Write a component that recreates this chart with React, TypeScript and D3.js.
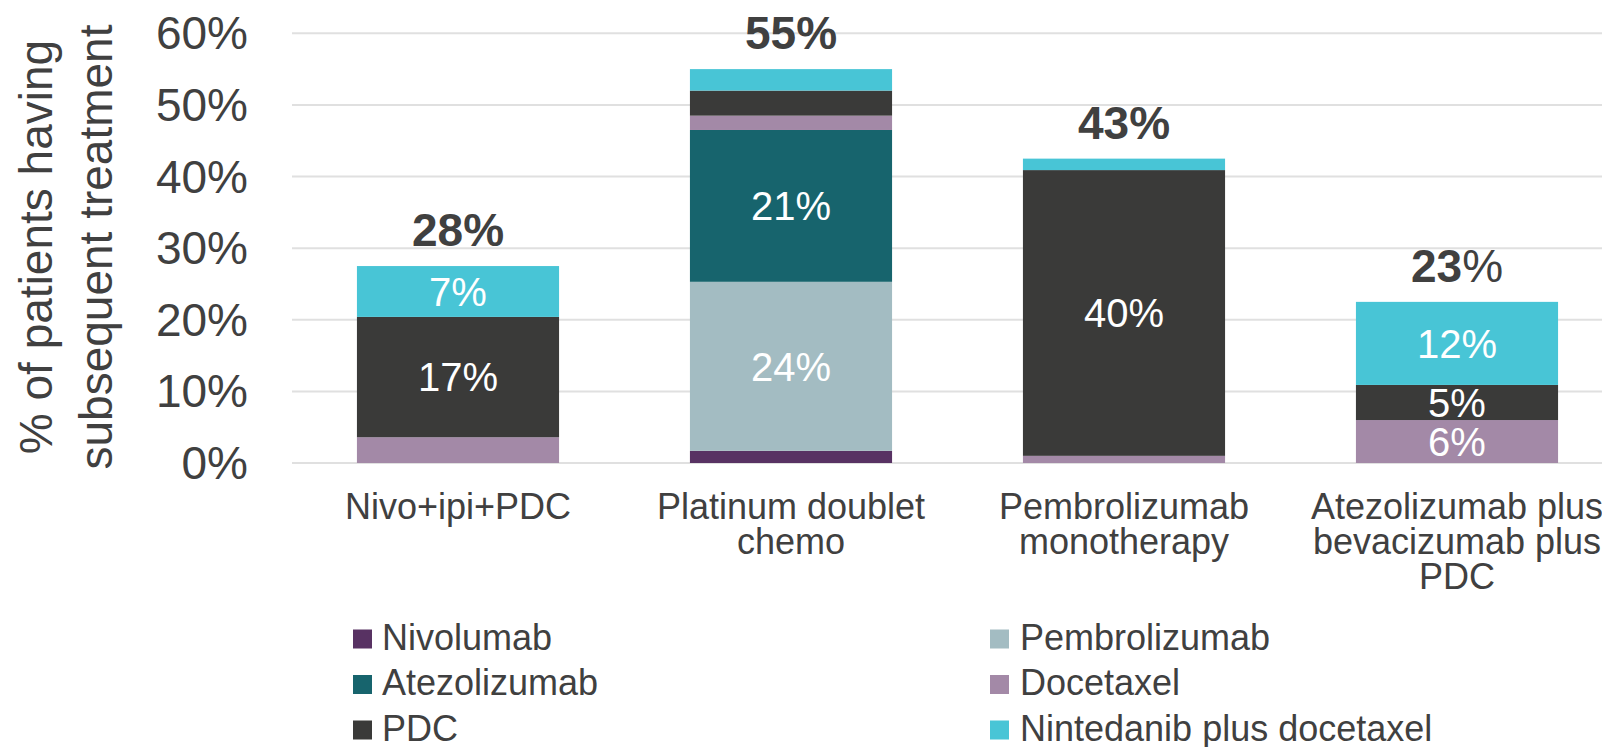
import { useEffect, useRef } from "react";
import * as d3 from "d3";

const categories = [
  "Nivo+ipi+PDC",
  "Platinum doublet chemo",
  "Pembrolizumab monotherapy",
  "Atezolizumab plus bevacizumab plus PDC",
];
const categoryLines = [
  ["Nivo+ipi+PDC"],
  ["Platinum doublet", "chemo"],
  ["Pembrolizumab", "monotherapy"],
  ["Atezolizumab plus", "bevacizumab plus", "PDC"],
];

// stacked bottom -> top
const seriesNames = [
  "Nivolumab",
  "Pembrolizumab",
  "Atezolizumab",
  "Docetaxel",
  "PDC",
  "Nintedanib plus docetaxel",
];
const nivolumab = [0, 1.7, 0, 0];
const pembrolizumab = [0, 23.6, 0, 0];
const atezolizumab = [0, 21.2, 0, 0];
const docetaxel = [3.6, 2.0, 1.0, 6.0];
const pdc = [16.8, 3.5, 39.9, 4.9];
const nintedanib = [7.1, 3.0, 1.6, 11.6];
const seriesValues = [nivolumab, pembrolizumab, atezolizumab, docetaxel, pdc, nintedanib];
const seriesColors = ["#583263", "#a3bcc2", "#17646d", "#a389a7", "#3a3a39", "#48c5d6"];

const yTicks = [0, 10, 20, 30, 40, 50, 60];
// the last total label has a plain-weight percent sign in the original
const plainPercent = [false, false, false, true];

// legend: two columns, three rows (reading order follows stack order)
const legendColumns = [
  ["Nivolumab", "Atezolizumab", "PDC"],
  ["Pembrolizumab", "Docetaxel", "Nintedanib plus docetaxel"],
];

const FONT = "'Liberation Sans', Arial, Helvetica, sans-serif";
const TEXT = "#404040";

function App() {
  const svgRef = useRef(null);

  useEffect(() => {
    const svgElement = svgRef.current;
    if (!svgElement) return;

    const width = 1602;
    const height = 747;
    const svg = d3.select(svgElement);
    svg.selectAll("*").remove();
    svg.attr("width", width).attr("height", height);

    const x = d3
      .scaleBand()
      .domain(categories)
      .range([291.5, 1623.5])
      .paddingInner(0.393)
      .paddingOuter(0.1965);

    const y = d3.scaleLinear().domain([0, 60]).range([463, 33.3]);

    // gridlines
    svg
      .append("g")
      .selectAll("line")
      .data(yTicks)
      .enter()
      .append("line")
      .attr("x1", 292)
      .attr("x2", width)
      .attr("y1", (d) => y(d))
      .attr("y2", (d) => y(d))
      .attr("stroke", "#e0e0e0")
      .attr("stroke-width", 2);

    // y tick labels
    svg
      .append("g")
      .selectAll("text")
      .data(yTicks)
      .enter()
      .append("text")
      .attr("x", 248)
      .attr("y", (d) => y(d))
      .attr("dy", "0.35em")
      .attr("text-anchor", "end")
      .attr("font-family", FONT)
      .attr("font-size", 46)
      .attr("fill", TEXT)
      .text((d) => `${d}%`);

    // y axis title
    const title = svg
      .append("text")
      .attr("transform", `translate(0, 247) rotate(-90)`)
      .attr("text-anchor", "middle")
      .attr("font-family", FONT)
      .attr("font-size", 46)
      .attr("fill", TEXT);
    title.append("tspan").attr("x", 0).attr("y", 52).text("% of patients having");
    title.append("tspan").attr("x", 0).attr("y", 112).text("subsequent treatment");

    // stacked data
    const rows = categories.map((c, i) => {
      const row = { category: c };
      seriesNames.forEach((s, j) => {
        row[s] = seriesValues[j][i];
      });
      return row;
    });
    const stacked = d3.stack().keys(seriesNames)(rows);

    const layers = svg
      .append("g")
      .selectAll("g")
      .data(stacked)
      .enter()
      .append("g")
      .attr("fill", (d, i) => seriesColors[i]);

    layers
      .selectAll("rect")
      .data((d) => d)
      .enter()
      .filter((d) => d[1] - d[0] > 0)
      .append("rect")
      .attr("x", (d) => x(d.data.category))
      .attr("width", x.bandwidth())
      .attr("y", (d) => y(d[1]))
      .attr("height", (d) => y(d[0]) - y(d[1]));

    // segment labels
    layers
      .selectAll("text")
      .data((d) => d)
      .enter()
      .filter((d) => d[1] - d[0] >= 4)
      .append("text")
      .attr("x", (d) => x(d.data.category) + x.bandwidth() / 2)
      .attr("y", (d) => (y(d[0]) + y(d[1])) / 2)
      .attr("dy", "0.36em")
      .attr("text-anchor", "middle")
      .attr("font-family", FONT)
      .attr("font-size", 40)
      .attr("fill", "#ffffff")
      .text((d) => `${Math.round(d[1] - d[0])}%`);

    // totals
    const totals = categories.map((c, i) => d3.sum(seriesValues, (s) => s[i]));
    const totalText = svg
      .append("g")
      .selectAll("text")
      .data(totals)
      .enter()
      .append("text")
      .attr("x", (d, i) => x(categories[i]) + x.bandwidth() / 2)
      .attr("y", (d) => y(d) - 20)
      .attr("text-anchor", "middle")
      .attr("font-family", FONT)
      .attr("font-size", 46)
      .attr("font-weight", "bold")
      .attr("fill", TEXT);
    totalText.append("tspan").text((d) => `${Math.round(d)}`);
    totalText
      .append("tspan")
      .attr("font-weight", (d, i) => (plainPercent[i] ? "normal" : "bold"))
      .text("%");

    // category labels
    const catText = svg
      .append("g")
      .selectAll("text")
      .data(categories)
      .enter()
      .append("text")
      .attr("text-anchor", "middle")
      .attr("font-family", FONT)
      .attr("font-size", 36)
      .attr("fill", TEXT);
    catText
      .selectAll("tspan")
      .data((d, i) => categoryLines[i].map((line) => ({ line, c: d })))
      .enter()
      .append("tspan")
      .attr("x", (d) => x(d.c) + x.bandwidth() / 2)
      .attr("y", (d, j) => 519 + j * 35)
      .text((d) => d.line);

    // legend
    const legendX = [353, 990];
    const legendTextX = [382, 1020];
    legendColumns.forEach((col, ci) => {
      col.forEach((name, ri) => {
        const baseline = 649.5 + ri * 45.5;
        const color = seriesColors[seriesNames.indexOf(name)];
        svg
          .append("rect")
          .attr("x", legendX[ci])
          .attr("y", baseline - 20)
          .attr("width", 19)
          .attr("height", 19)
          .attr("fill", color);
        svg
          .append("text")
          .attr("x", legendTextX[ci])
          .attr("y", baseline)
          .attr("font-family", FONT)
          .attr("font-size", 36)
          .attr("fill", TEXT)
          .text(name);
      });
    });
  }, []);

  return (
    <svg
      ref={svgRef}
      style={{ position: "absolute", left: 0, top: 0, background: "#fff" }}
      role="img"
      aria-label="Stacked bar chart of subsequent treatment"
    />
  );
}

export default App;
